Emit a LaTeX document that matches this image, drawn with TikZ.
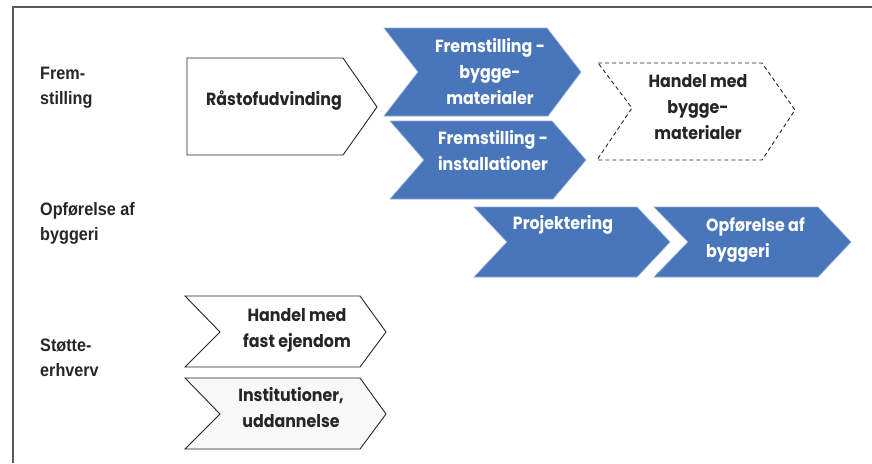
\documentclass[tikz,border=0pt]{standalone}
\usepackage{fontspec}
\setmainfont{Liberation Sans}
\newfontfamily\shapefont{Poppins}[FakeStretch=0.9]
\newfontfamily\labelfont{Liberation Sans}[FakeStretch=0.9]
\definecolor{chevblue}{RGB}{73,118,186}
\definecolor{txtgray}{RGB}{38,38,38}
\definecolor{lightfill}{RGB}{248,248,248}
\definecolor{framegray}{RGB}{90,90,90}
\tikzset{
  bluechev/.style={fill=chevblue, draw=chevblue!60!white, line width=0.6pt},
  whitechev/.style={fill=white, draw=txtgray, line width=0.9pt},
  dashchev/.style={fill=white, draw=txtgray, line width=0.9pt, dash pattern=on 4pt off 3pt},
  stxt/.style={font=\shapefont\bfseries\fontsize{17.6}{26}\selectfont, text=txtgray, align=center, inner sep=0pt, anchor=base},
  wtxt/.style={stxt, text=white},
  lbl/.style={font=\labelfont\bfseries\fontsize{18}{25}\selectfont, text=txtgray, align=left, inner sep=0pt, anchor=base west}
}
\begin{document}
\begin{tikzpicture}[x=1pt,y=-1pt]
\useasboundingbox (0,0) rectangle (872,463);
\fill[white] (0,0) rectangle (872,463);
% frame
\draw[framegray, line width=1.3pt] (13,463) -- (13,7) -- (872,7);
% row labels (anchor = baseline of last line)
\node[lbl] (l1) at (40,104) {Frem-\\stilling};
\node[lbl] (l2) at (40,240) {Opførelse af\\byggeri};
\node[lbl] (l3) at (40,376) {Støtte-\\erhverv};
% shapes
\draw[whitechev] (187,58) -- (343,58) -- (377,107) -- (343,155) -- (187,155) -- cycle;
\draw[bluechev] (384,28) -- (547,28) -- (581,72) -- (548,116) -- (384,116) -- (418,72) -- cycle;
\draw[bluechev] (390,121) -- (552,121) -- (586,160) -- (553,199) -- (390,199) -- (424,160) -- cycle;
\draw[dashchev] (598,63) -- (762,63) -- (795,110) -- (762,160) -- (597,160) -- (632,108) -- cycle;
\draw[bluechev] (474,207) -- (637,207) -- (670,242) -- (637,277) -- (474,277) -- (507,242) -- cycle;
\draw[bluechev] (654,207) -- (818,207) -- (851,242) -- (818,277) -- (654,277) -- (688,242) -- cycle;
\draw[whitechev] (185,296) -- (360,296) -- (386,332) -- (360,367) -- (185,367) -- (220,332) -- cycle;
\draw[whitechev, fill=lightfill] (185,378) -- (360,378) -- (386,414) -- (360,449) -- (185,449) -- (220,414) -- cycle;
% texts (anchor = baseline of last line)
\node[stxt] (t1) at (274,105) {Råstofudvinding};
\node[wtxt] (t2) at (490,104) {Fremstilling -\\bygge-\\materialer};
\node[wtxt] (t3) at (493,170) {Fremstilling -\\installationer};
\node[stxt] (t4) at (698,139) {Handel med\\bygge-\\materialer};
\node[wtxt] (t5) at (563,229) {Projektering};
\node[wtxt, align=left, anchor=base west] (t6) at (706,257) {Opførelse af\\byggeri};
\node[stxt] (t7) at (297,347) {Handel med\\fast ejendom};
\node[stxt] (t8) at (291,427) {Institutioner,\\uddannelse};
\end{tikzpicture}
\end{document}
